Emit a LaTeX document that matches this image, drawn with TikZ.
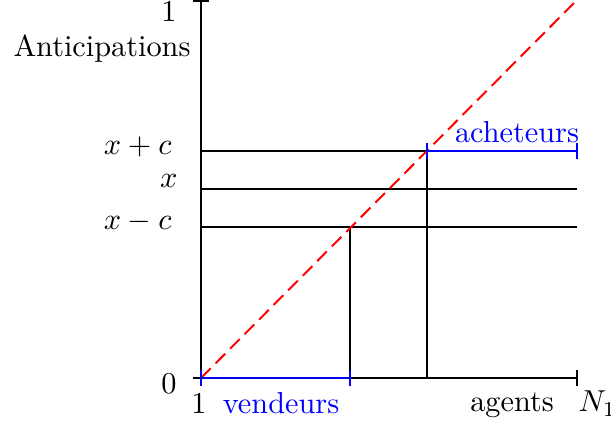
\documentclass[tikz,border=0pt]{standalone}
\begin{document}
\begin{tikzpicture}[x=0.33pt,y=-0.33pt,
  axis/.style={line width=0.65pt,black},
  level/.style={line width=0.65pt,black},
  span/.style={line width=0.85pt,blue},
  diag/.style={line width=0.65pt,red,dash pattern=on 4.5pt off 2.3pt},
  lbl/.style={inner sep=0pt,anchor=base},
  bluelbl/.style={inner sep=0pt,anchor=base,text=blue}]
\useasboundingbox (0,0) rectangle (611,427);
% key points
\coordinate (O) at (201,378);
\coordinate (Ytop) at (201,1);
\coordinate (Xend) at (577,378);
\coordinate (Dtop) at (577,0);
\coordinate (Lp) at (201,151);
\coordinate (Lx) at (201,189);
\coordinate (Lm) at (201,227);
\coordinate (Rp) at (577,151);
\coordinate (Rx) at (577,189);
\coordinate (Rm) at (577,227);
\coordinate (Sv) at (350,227);
\coordinate (Sa) at (427,151);
\coordinate (Bv) at (350,378);
\coordinate (Ba) at (427,378);
% axes
\draw[axis] (O) -- (Ytop);
\draw[axis] ([xshift=-8*0.33pt]Ytop) -- ([xshift=8*0.33pt]Ytop);
\draw[axis] ([xshift=-8*0.33pt]O) -- (Xend);
\draw[axis] ([yshift=8*0.33pt]Xend) -- ([yshift=-8*0.33pt]Xend);
% levels
\draw[level] (Lp) -- (Rp);
\draw[level] (Lx) -- (Rx);
\draw[level] (Lm) -- (Rm);
\draw[level] (Sv) -- (Bv);
\draw[level] (Sa) -- (Ba);
% diagonal
\draw[diag] (O) -- (Dtop);
% blue spans
\draw[span] (O) -- (Bv);
\draw[span] ([yshift=8*0.33pt]O) -- ([yshift=-8*0.33pt]O);
\draw[span] ([yshift=8*0.33pt]Bv) -- ([yshift=-8*0.33pt]Bv);
\draw[span] (Sa) -- (Rp);
\draw[span] ([yshift=8*0.33pt]Sa) -- ([yshift=-8*0.33pt]Sa);
\draw[span] ([yshift=8*0.33pt]Rp) -- ([yshift=-8*0.33pt]Rp);
% labels
\node[lbl] (one) at (169,22) {$1$};
\node[lbl] (ant) at (102,57) {Anticipations};
\node[lbl,anchor=base east] (xpc) at (172,155) {$x+c$};
\node[lbl,anchor=base east] (xx) at (178,188) {$x$};
\node[lbl,anchor=base east] (xmc) at (172,230) {$x-c$};
\node[lbl] (zero) at (169,394) {$0$};
\node[lbl] (oneb) at (199,414) {$1$};
\node[bluelbl] (vend) at (281,414) {vendeurs};
\node[bluelbl] (ach) at (517,143) {acheteurs};
\node[lbl] (agents) at (512,412) {agents};
\node[lbl,anchor=base west] (N) at (578,412) {$N_1$};
\end{tikzpicture}
\end{document}
